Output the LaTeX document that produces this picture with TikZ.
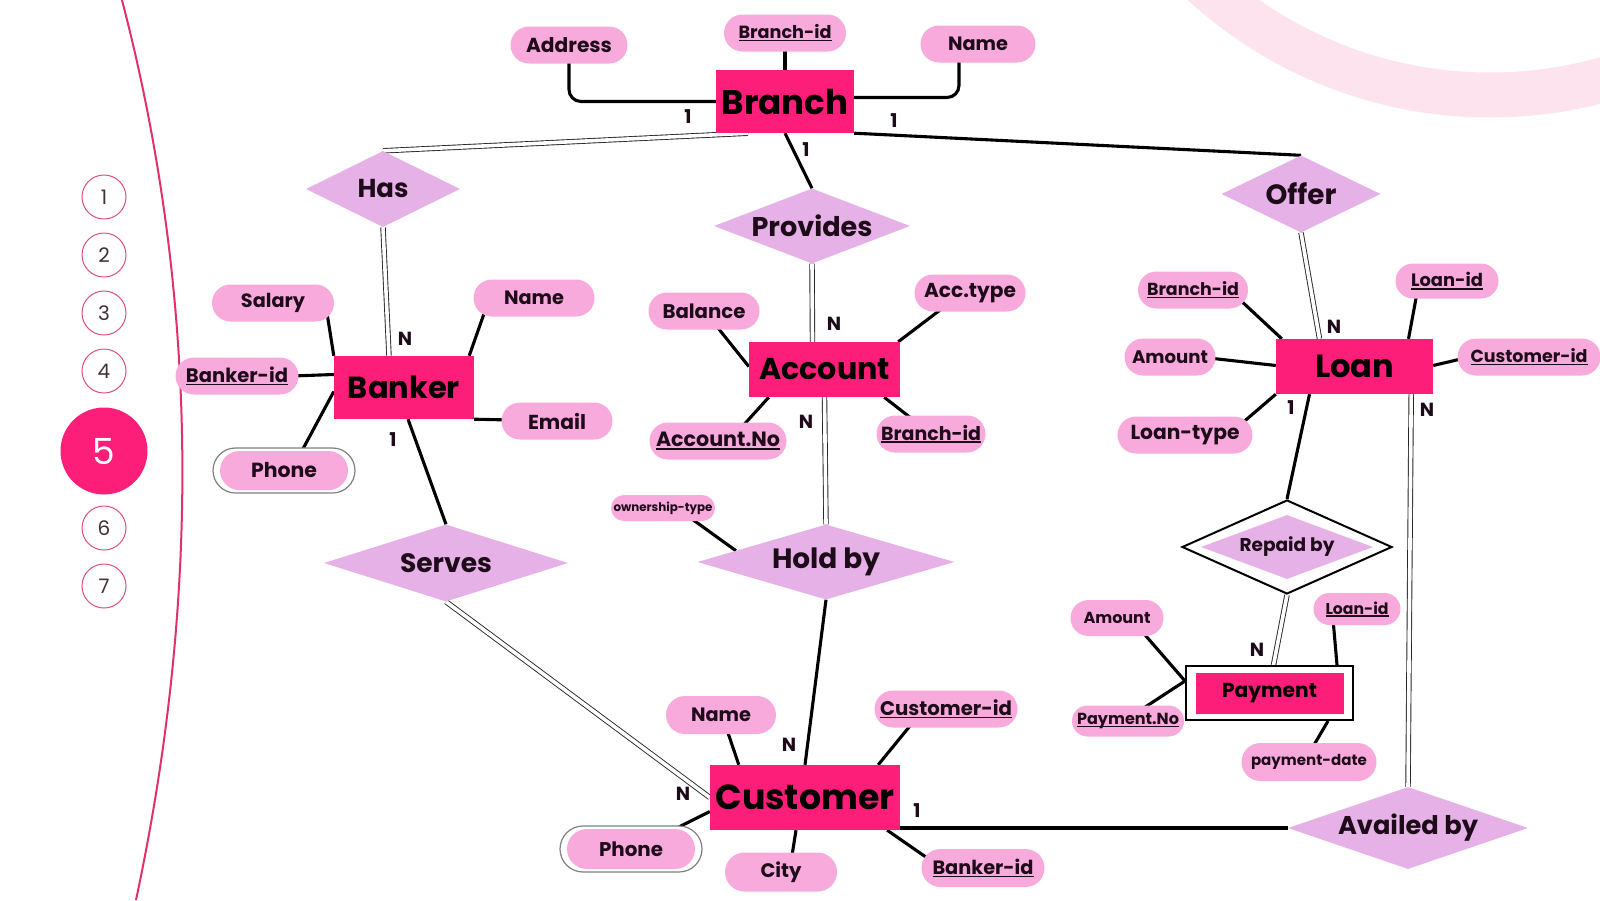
\documentclass[tikz,border=0pt]{standalone}
\usepackage{fontspec}
\setmainfont{Poppins}
\usetikzlibrary{shapes.geometric,shapes.misc,calc}
\pgfdeclarelayer{back}
\pgfsetlayers{back,main}
\definecolor{entpink}{HTML}{FC1E78}
\definecolor{attpink}{HTML}{F8AADC}
\definecolor{relpurp}{HTML}{E6B1E7}
\definecolor{ink}{HTML}{1E0B1A}
\definecolor{ringpink}{HTML}{FCE3EE}
\definecolor{arcpink}{HTML}{E2306F}
\definecolor{circpink}{HTML}{E0507A}
\newcommand\tw[2]{\makebox[0pt]{\resizebox{#1pt}{!}{#2}}}
\newcommand\uln[1]{\setbox0\hbox{#1}\rlap{\rule[-0.16em]{\wd0}{0.09em}}\box0}
\begin{document}
\begin{tikzpicture}[x=1pt,y=-1pt,
  ent/.style={rectangle, fill=entpink, inner sep=0, text=black, font=\bfseries},
  att/.style={rounded rectangle, fill=attpink, inner sep=0, text=ink, font=\bfseries, minimum height=37},
  rel/.style={diamond, fill=relpurp, inner sep=0, text=ink, font=\bfseries},
  conn/.style={line width=3.1, draw=black},
  dbl/.style={line width=0.9, draw=black!85, double=white, double distance=3.6},
  card/.style={inner sep=0, text=ink, font=\bfseries\fontsize{19}{19}\selectfont},
  numc/.style={circle, draw=circpink, line width=1, fill=white, minimum size=44, inner sep=0, text=ink!85, font=\fontsize{20}{20}\selectfont},
  ]
\useasboundingbox (0,0) rectangle (1600,900);
\begin{pgfonlayer}{back}
\fill[white] (0,0) rectangle (1600,900);
\begin{scope}
\clip (0,0) rectangle (1600,900);
\draw[ringpink, line width=45] (1490,-330) circle (425);
\end{scope}
\draw[arcpink, line width=2] (122,0) .. controls (200,300) and (200,600) .. (136,900);
\end{pgfonlayer}

% side numbers
\node[numc] (k1) at (104,197) {1};
\node[numc] (k2) at (104,255) {2};
\node[numc] (k3) at (104,313) {3};
\node[numc] (k4) at (104,371) {4};
\node[numc, fill=entpink, draw=none, minimum size=87, text=white, font=\fontsize{36}{36}\selectfont] (k5) at (104,451) {5};
\node[numc] (k6) at (104,528) {6};
\node[numc] (k7) at (104,586) {7};

% entities
\node[ent, minimum width=138, minimum height=63] (branch) at (785,101.5) {\tw{127}{Branch}};
\node[ent, minimum width=140, minimum height=63] (banker) at (404,387.5) {\tw{112}{Banker}};
\node[ent, minimum width=151, minimum height=55] (account) at (824.5,369.5) {\tw{131}{Account}};
\node[ent, minimum width=157, minimum height=55] (loan) at (1354.5,366.5) {\tw{79}{Loan}};
\node[ent, minimum width=190, minimum height=65] (customer) at (805,797.5) {\tw{179}{Customer}};
\node[draw=black, line width=2, fill=white, minimum width=167, minimum height=54, inner sep=0] (paymentO) at (1269.5,693) {};
\node[ent, minimum width=148, minimum height=41] (payment) at (paymentO) {\tw{95}{Payment}};

% relationships
\node[rel, minimum width=154, minimum height=76] (has) at (383,189) {\tw{51}{Has}};
\node[rel, minimum width=196, minimum height=75] (provides) at (812,226) {\tw{121}{Provides}};
\node[rel, minimum width=159, minimum height=77] (offer) at (1301,194) {\tw{71}{Offer}};
\node[rel, minimum width=244, minimum height=77] (serves) at (446,563) {\tw{92}{Serves}};
\node[rel, minimum width=257, minimum height=75] (holdby) at (826,562) {\tw{108}{Hold by}};
\node[rel, minimum width=240, minimum height=82] (availed) at (1408,828) {\tw{140}{Availed by}};
\node[diamond, draw=black, line width=2, fill=white, minimum width=210, minimum height=94, inner sep=0] (repaidO) at (1287,547) {};
\node[rel, minimum width=172, minimum height=64] (repaid) at (repaidO) {\tw{95}{Repaid by}};

% attributes
\node[att, minimum width=117] (addr) at (569,45) {\tw{86}{Address}};
\node[att, minimum width=122] (bid) at (785,33) {\tw{93}{\uln{Branch-id}}};
\node[att, minimum width=115] (bname) at (978,44) {\tw{60}{Name}};
\node[att, minimum width=122] (salary) at (273,303) {\tw{64}{Salary}};
\node[att, minimum width=123] (bkid) at (237,376) {\tw{102}{\uln{Banker-id}}};
\node[draw=gray, line width=1.2, fill=white, rounded rectangle, minimum width=142, minimum height=45, inner sep=0] (phoneO) at (284,470.5) {};
\node[att, minimum width=128, minimum height=39] (phone) at (phoneO) {\tw{66}{Phone}};
\node[att, minimum width=121] (bkname) at (534,298) {\tw{60}{Name}};
\node[att, minimum width=111] (email) at (557,421) {\tw{58}{Email}};
\node[att, minimum width=111] (balance) at (704,311) {\tw{83}{Balance}};
\node[att, minimum width=111] (acctype) at (970,293) {\tw{92}{Acc.type}};
\node[att, minimum width=137] (accno) at (718,441) {\tw{124}{\uln{Account.No}}};
\node[att, minimum width=109] (abid) at (931,434) {\tw{100}{\uln{Branch-id}}};
\node[att, minimum width=104, minimum height=26] (own) at (663,508) {\tw{99}{ownership-type}};
\node[att, minimum width=110, minimum height=38] (cname) at (721,715) {\tw{60}{Name}};
\node[att, minimum width=143] (cid) at (946,709) {\tw{132}{\uln{Customer-id}}};
\node[draw=gray, line width=1.2, fill=white, rounded rectangle, minimum width=142, minimum height=46, inner sep=0] (cphoneO) at (631,849) {};
\node[att, minimum width=128, minimum height=40] (cphone) at (cphoneO) {\tw{64}{Phone}};
\node[att, minimum width=112, minimum height=39] (city) at (781,872) {\tw{41}{City}};
\node[att, minimum width=123, minimum height=38] (cbkid) at (983,868) {\tw{101}{\uln{Banker-id}}};
\node[att, minimum width=110] (lbid) at (1193,290) {\tw{92}{\uln{Branch-id}}};
\node[att, minimum width=103, minimum height=35] (lid) at (1447,281) {\tw{72}{\uln{Loan-id}}};
\node[att, minimum width=91] (lamount) at (1170,357) {\tw{76}{Amount}};
\node[att, minimum width=143] (lcid) at (1529,357) {\tw{117}{\uln{Customer-id}}};
\node[att, minimum width=135] (ltype) at (1185,435) {\tw{109}{Loan-type}};
\node[att, minimum width=93, minimum height=36] (pamount) at (1117,618) {\tw{67}{Amount}};
\node[att, minimum width=87, minimum height=32] (plid) at (1357,609) {\tw{63}{\uln{Loan-id}}};
\node[att, minimum width=112, minimum height=31] (pno) at (1128,721) {\tw{102}{\uln{Payment.No}}};
\node[att, minimum width=135, minimum height=38] (pdate) at (1309,762) {\tw{116}{payment-date}};

% cardinalities
\node[card] (c1) at (688,117) {1};
\node[card] (c2) at (894,121) {1};
\node[card] (c3) at (806,150) {1};
\node[card] (c4) at (405,339) {N};
\node[card] (c5) at (393,440) {1};
\node[card] (c6) at (834,324) {N};
\node[card] (c7) at (806,422) {N};
\node[card] (c8) at (789,745) {N};
\node[card] (c9) at (683,794) {N};
\node[card] (c10) at (917,811) {1};
\node[card] (c11) at (1334,327) {N};
\node[card] (c12) at (1291,408) {1};
\node[card] (c13) at (1427,410) {N};
\node[card] (c14) at (1257,650) {N};

\begin{pgfonlayer}{back}
\draw[conn, rounded corners=12] (addr.center) |- (branch.west);
\draw[conn, rounded corners=12] ($(branch.east)+(0,-4)$) -| ($(bname.center)+(-19,0)$);
\draw[conn] (bid.center) -- (branch.north);
\draw[dbl] ($(branch.south)+(-37,0)$) -- (has.north);
\draw[conn] (branch.south east) -- (offer.north);
\draw[conn] (branch.south) -- (provides.north);
\draw[dbl] (has.south) -- ($(banker.north)+(-15,0)$);
\draw[dbl] (provides.south) -- ($(account.north)+(-12,0)$);
\draw[dbl] (offer.south) -- ($(loan.north)+(-35,0)$);
% banker
\draw[conn] ($(salary.center)+(54,10)$) -- (banker.north west);
\draw[conn] ($(bkid.center)+(55,0)$) -- ($(banker.west)+(0,-13)$);
\draw[conn] ($(phoneO.center)+(17,-18)$) -- ($(banker.west)+(0,4)$);
\draw[conn] ($(bkname.center)+(-48,10)$) -- ($(banker.north east)+(-5,0)$);
\draw[conn] (banker.south east) -- (email.center);
\draw[conn] ($(banker.south)+(4,0)$) -- (serves.north);
\draw[dbl] (serves.south) -- (customer.west);
% account
\draw[conn] ($(balance.center)+(10,12)$) -- ($(account.west)+(0,-3)$);
\draw[conn] ($(acctype.center)+(-26,14)$) -- ($(account.north east)+(-2,0)$);
\draw[conn] ($(accno.center)+(22,-12)$) -- ($(account.south west)+(20,0)$);
\draw[conn] ($(abid.center)+(-15,-12)$) -- ($(account.south east)+(-16,0)$);
\draw[dbl] (account.south) -- (holdby.north);
\draw[conn] ($(own.center)+(22,6)$) -- ($(holdby.west)!0.3!(holdby.north)$);
\draw[conn] (holdby.south) -- (customer.north);
% customer
\draw[conn] ($(cname.center)+(5,12)$) -- ($(customer.north west)+(29,0)$);
\draw[conn] ($(cid.center)+(-32,12)$) -- ($(customer.north east)+(-22,0)$);
\draw[conn] ($(cphoneO.center)+(34,-15)$) -- ($(customer.west)+(0,14)$);
\draw[conn] ($(customer.south)+(-9,0)$) -- ($(city.center)+(10,-10)$);
\draw[conn] ($(customer.south east)+(-13,0)$) -- ($(cbkid.center)+(-50,-6)$);
\draw[conn] (customer.east |- availed.west) -- (availed.west);
% loan
\draw[conn] ($(lbid.center)+(45,8)$) -- ($(loan.north west)+(6,0)$);
\draw[conn] ($(lid.center)+(-30,12)$) -- ($(loan.north)+(54,0)$);
\draw[conn] ($(lamount.center)+(30,0)$) -- ($(loan.west)+(0,-1)$);
\draw[conn] ($(lcid.west)+(12,0)$) -- ($(loan.east)+(0,-1)$);
\draw[conn] ($(ltype.center)+(55,-10)$) -- (loan.south west);
\draw[conn] ($(loan.south)+(-45,0)$) -- (repaidO.north);
\draw[dbl] ($(loan.south east)+(-22,0)$) -- (availed.north);
% payment
\draw[dbl] (repaidO.south) -- ($(paymentO.north)+(4,0)$);
\draw[conn] ($(pamount.center)+(22,10)$) -- ($(paymentO.west)+(0,-12)$);
\draw[conn] ($(pno.center)+(8,-8)$) -- ($(paymentO.west)+(0,-12)$);
\draw[conn] ($(plid.center)+(-24,10)$) -- ($(paymentO.north east)+(-17,0)$);
\draw[conn] ($(paymentO.south east)+(-26,0)$) -- ($(pdate.center)+(2,-12)$);
\end{pgfonlayer}
\end{tikzpicture}
\end{document}
